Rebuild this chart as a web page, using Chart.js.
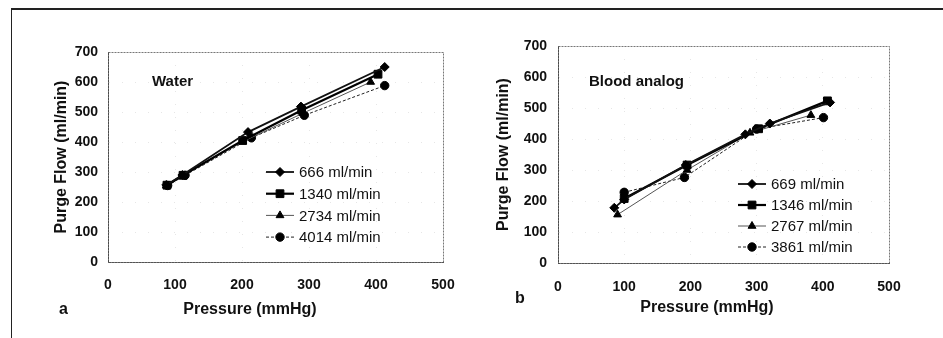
<!DOCTYPE html>
<html>
<head>
<meta charset="utf-8">
<script src="https://cdn.jsdelivr.net/npm/chart.js@4.4.1/dist/chart.umd.min.js"></script>
<style>
  body { margin: 0; background: #fff; }
  #wrap { position: relative; width: 943px; height: 338px; overflow: hidden; }
  #frame { position: absolute; left: 11px; top: 8px; width: 940px; height: 340px; border-top: 2px solid #222; border-left: 1px solid #222; }
  canvas { position: absolute; top: 0; }
  #ca { left: 0; }
  #cb { left: 470px; }
  .tag { position: absolute; font: bold 16px "Liberation Sans", Arial, sans-serif; color: #111; }
</style>
</head>
<body>
<div id="wrap">
  <div id="frame"></div>
  <canvas id="ca" width="470" height="338" style="width:470px;height:338px"></canvas>
  <canvas id="cb" width="473" height="338" style="width:473px;height:338px"></canvas>
  <div class="tag" style="left:59px;top:300px">a</div>
  <div class="tag" style="left:515px;top:289px">b</div>
</div>
<script>
// panel a - water
const waterSeries = ['666 ml/min', '1340 ml/min', '2734 ml/min', '4014 ml/min'];
const water666P = [87, 111, 209, 288, 413];
const water666F = [257, 290, 433, 518, 650];
const water1340P = [88, 112, 201, 289, 403];
const water1340F = [256, 289, 405, 506, 626];
const water2734P = [87, 110, 201, 291, 392];
const water2734F = [255, 288, 401, 496, 600];
const water4014P = [89, 115, 214, 293, 413];
const water4014F = [255, 289, 414, 489, 588];

// panel b - blood analog
const bloodSeries = ['669 ml/min', '1346 ml/min', '2767 ml/min', '3861 ml/min'];
const blood669P = [85, 100, 193, 283, 320, 411];
const blood669F = [178, 205, 316, 415, 450, 518];
const blood1346P = [100, 195, 303, 407];
const blood1346F = [208, 316, 433, 523];
const blood2767P = [90, 195, 290, 382];
const blood2767F = [156, 300, 420, 477];
const blood3861P = [100, 191, 300, 401];
const blood3861F = [228, 276, 432, 469];

const xTicks = [0, 100, 200, 300, 400, 500];
const yTicks = [0, 100, 200, 300, 400, 500, 600, 700];

const FONT = '"Liberation Sans", Arial, sans-serif';

const looks = [
  { shape: 'rectRot', r: 4.5, color: '#111', width: 1.8, dash: [] },
  { shape: 'rect', r: 5.5, color: '#000', width: 2.2, dash: [] },
  { shape: 'triangle', r: 4.5, color: '#555', width: 1, dash: [] },
  { shape: 'circle', r: 4.2, color: '#222', width: 1, dash: [3, 2] }
];

function series(label, px, py, i) {
  const s = looks[i];
  return {
    label: label,
    data: px.map((p, k) => ({ x: p, y: py[k] })),
    showLine: true,
    borderColor: s.color,
    borderWidth: s.width,
    borderDash: s.dash,
    pointStyle: s.shape,
    pointRadius: s.r,
    pointBackgroundColor: '#000',
    pointBorderColor: '#000',
    pointBorderWidth: 1
  };
}

// legend drawn inside the plot: line sample + marker + text
const panelLegend = {
  id: 'panelLegend',
  afterDatasetsDraw(chart, args, opts) {
    const ctx = chart.ctx;
    ctx.save();
    ctx.font = '15px ' + FONT;
    ctx.textBaseline = 'middle';
    chart.data.datasets.forEach((ds, i) => {
      const y = opts.y + i * opts.dy;
      ctx.strokeStyle = ds.borderColor;
      ctx.lineWidth = ds.borderWidth;
      ctx.setLineDash(ds.borderDash || []);
      ctx.beginPath();
      ctx.moveTo(opts.x, y);
      ctx.lineTo(opts.x + 28, y);
      ctx.stroke();
      ctx.setLineDash([]);
      ctx.fillStyle = '#000';
      ctx.strokeStyle = '#000';
      ctx.lineWidth = 1;
      Chart.helpers.drawPoint(ctx, { pointStyle: ds.pointStyle, radius: ds.pointRadius, rotation: 0, borderWidth: 1 }, opts.x + 14, y);
      ctx.fillStyle = '#111';
      ctx.fillText(ds.label, opts.x + 33, y + 1);
    });
    ctx.restore();
  }
};

// panel name inside the plot and the x axis title (placed like the original, left of centre)
const panelText = {
  id: 'panelText',
  afterDatasetsDraw(chart, args, opts) {
    const ctx = chart.ctx;
    ctx.save();
    ctx.font = 'bold 15px ' + FONT;
    ctx.fillStyle = '#111';
    ctx.textBaseline = 'alphabetic';
    ctx.fillText(opts.text, opts.x, opts.y);
    ctx.font = 'bold 16px ' + FONT;
    ctx.textAlign = 'center';
    ctx.textBaseline = 'middle';
    ctx.fillText(opts.xTitle, opts.tx, opts.ty);
    ctx.restore();
  }
};

const plotFrame = {
  id: 'plotFrame',
  beforeDatasetsDraw(chart) {
    const a = chart.chartArea, ctx = chart.ctx;
    ctx.save();
    ctx.strokeStyle = '#777';
    ctx.lineWidth = 1;
    ctx.setLineDash([2, 1]);
    ctx.strokeRect(a.left + 0.5, a.top + 0.5, a.right - a.left, a.bottom - a.top);
    ctx.restore();
  }
};

function makeChart(id, datasets, cfg) {
  return new Chart(document.getElementById(id), {
    type: 'scatter',
    data: { datasets: datasets },
    plugins: [plotFrame, panelLegend, panelText],
    options: {
      responsive: false,
      animation: false,
      layout: { padding: cfg.pad },
      scales: {
        x: {
          type: 'linear', min: 0, max: 500,
          afterBuildTicks: (s) => { s.ticks = xTicks.map(v => ({ value: v })); },
          afterFit: (s) => { s.height = cfg.xh; },
          ticks: { font: { family: FONT, size: 14, weight: 'bold' }, color: '#111', padding: cfg.xpad },
          grid: { color: '#e6e6e6', drawTicks: false },
          border: { display: true, color: '#333', width: 1, dash: [1, 12] },
          title: { display: false }
        },
        y: {
          type: 'linear', min: 0, max: 700,
          afterBuildTicks: (s) => { s.ticks = yTicks.map(v => ({ value: v })); },
          afterFit: (s) => { s.width = cfg.yw; },
          ticks: { font: { family: FONT, size: 14, weight: 'bold' }, color: '#111', padding: cfg.ypad },
          grid: { color: '#e6e6e6', drawTicks: false },
          border: { display: true, color: '#222', width: 1, dash: [1, 12] },
          title: { display: true, text: 'Purge Flow (ml/min)', color: '#111', padding: 0, font: { family: FONT, size: 16, weight: 'bold' } }
        }
      },
      plugins: {
        legend: { display: false },
        tooltip: { enabled: false },
        panelLegend: cfg.legend,
        panelText: cfg.label
      }
    }
  });
}

makeChart('ca', [
  series(waterSeries[0], water666P, water666F, 0),
  series(waterSeries[1], water1340P, water1340F, 1),
  series(waterSeries[2], water2734P, water2734F, 2),
  series(waterSeries[3], water4014P, water4014F, 3)
], {
  pad: { left: 52, top: 52, right: 27, bottom: 19 },
  yw: 56, xh: 57, xpad: 15, ypad: 10,
  legend: { x: 266, y: 172, dy: 21.7 },
  label: { text: 'Water', x: 152, y: 86, xTitle: 'Pressure (mmHg)', tx: 250, ty: 310 }
});

makeChart('cb', [
  series(bloodSeries[0], blood669P, blood669F, 0),
  series(bloodSeries[1], blood1346P, blood1346F, 1),
  series(bloodSeries[2], blood2767P, blood2767F, 2),
  series(bloodSeries[3], blood3861P, blood3861F, 3)
], {
  pad: { left: 24, top: 46, right: 54, bottom: 21 },
  yw: 64, xh: 54, xpad: 16, ypad: 11,
  legend: { x: 268, y: 184, dy: 21 },
  label: { text: 'Blood analog', x: 119, y: 86, xTitle: 'Pressure (mmHg)', tx: 237, ty: 308 }
});
</script>
</body>
</html>
